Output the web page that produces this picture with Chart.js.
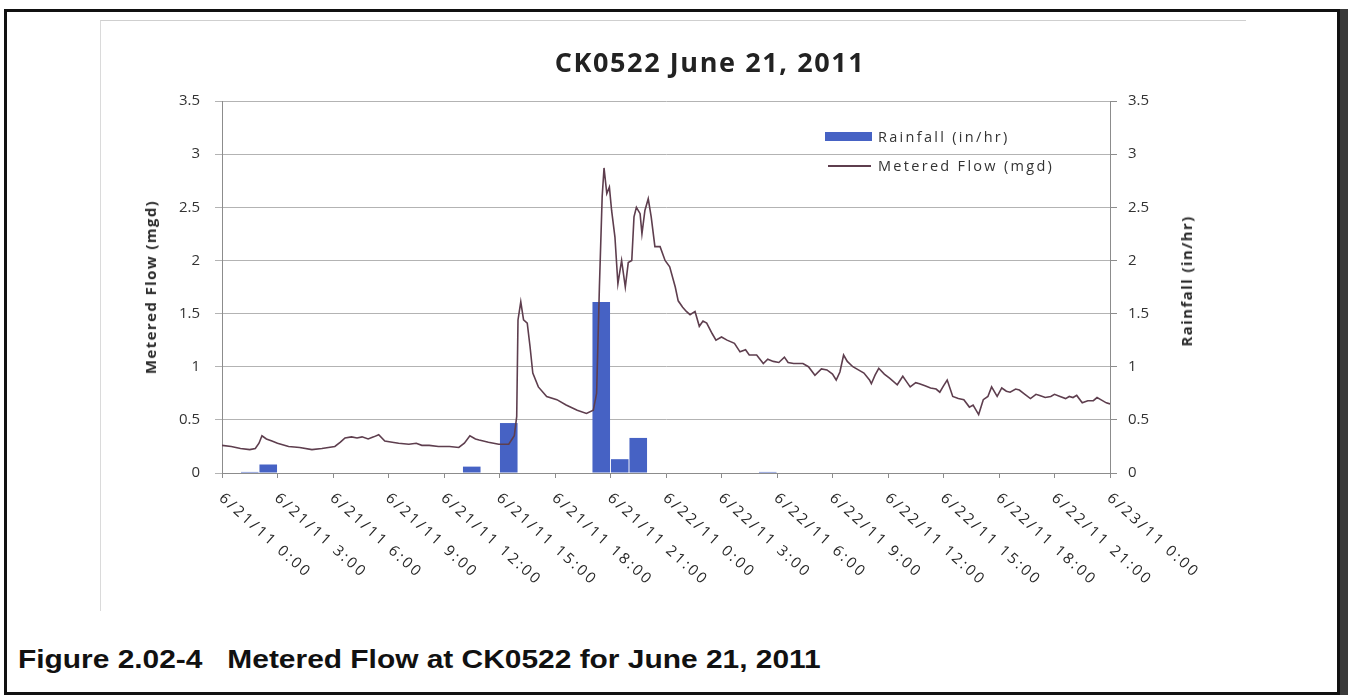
<!DOCTYPE html>
<html>
<head>
<meta charset="utf-8">
<script src="https://cdn.jsdelivr.net/npm/chart.js@4.4.1/dist/chart.umd.min.js"></script>
<style>
  body { margin: 0; background: #fff; width: 1348px; height: 699px; overflow: hidden; position: relative; font-family: "Open Sans", sans-serif; }
  #frame { position: absolute; left: 4px; top: 9px; width: 1330px; height: 680px; border: 3px solid #111; box-shadow: 8px 0 0 #3a3a3a; }
  #chartEdge { position: absolute; left: 100px; top: 20px; width: 1145px; height: 590px; border-top: 1px solid #cfcfcf; border-left: 1px solid #dadada; }
  #chartBox { position: absolute; left: 100px; top: 20px; width: 1145px; height: 590px; }
  #title { position: absolute; left: 710px; top: 43px; transform: translateX(-50%); font-size: 27px; font-weight: bold; color: #222; letter-spacing: 1.6px; white-space: nowrap; }
  .axisTitle { position: absolute; font-size: 15px; font-weight: bold; color: #2a2a2a; letter-spacing: 1.4px; white-space: nowrap; transform: translate(-50%, -50%) rotate(-90deg); }
  #legend { position: absolute; left: 825px; top: 122px; font-size: 14.5px; color: #333; letter-spacing: 2.3px; }
  #legend div { height: 29px; display: flex; align-items: center; white-space: nowrap; }
  .sw { display: inline-block; width: 47px; margin-right: 6px; }
  #caption { position: absolute; left: 18px; top: 644px; font-family: "Liberation Sans", Arial, sans-serif; font-weight: bold; font-size: 26px; color: #111; white-space: pre; transform: scaleX(1.15); transform-origin: left top; }
</style>
</head>
<body>
<div id="frame"></div>
<div id="chartEdge"></div>
<div id="chartBox"><canvas id="flowChart"></canvas></div>
<div id="title">CK0522 June 21, 2011</div>
<div class="axisTitle" style="left:150px; top:287px;">Metered Flow (mgd)</div>
<div class="axisTitle" style="left:1186px; top:281px;">Rainfall (in/hr)</div>
<div id="legend">
  <div><span class="sw" style="height:9px; background:#4662c4;"></span>Rainfall (in/hr)</div>
  <div><span class="sw" style="height:2px; background:#5e3e4e; width:43px; margin-left:3px; margin-right:7px;"></span>Metered Flow (mgd)</div>
</div>
<div id="caption">Figure 2.02-4   Metered Flow at CK0522 for June 21, 2011</div>

<script>
// x axis tick labels, one every 3 hours from 6/21/11 0:00
const xLabels = [
  '6/21/11 0:00', '6/21/11 3:00', '6/21/11 6:00', '6/21/11 9:00',
  '6/21/11 12:00', '6/21/11 15:00', '6/21/11 18:00', '6/21/11 21:00',
  '6/22/11 0:00', '6/22/11 3:00', '6/22/11 6:00', '6/22/11 9:00',
  '6/22/11 12:00', '6/22/11 15:00', '6/22/11 18:00', '6/22/11 21:00',
  '6/23/11 0:00'
];

// hourly rainfall (in/hr), index = hour since 6/21 0:00
const rainfall = [
  0, 0.01, 0.08, 0, 0, 0, 0, 0, 0, 0, 0, 0,
  0, 0.06, 0, 0.47, 0, 0, 0, 0, 1.61, 0.13, 0.33, 0,
  0, 0, 0, 0, 0, 0.01, 0, 0, 0, 0, 0, 0,
  0, 0, 0, 0, 0, 0, 0, 0, 0, 0, 0, 0
];

// metered flow (mgd), time in hours since 6/21 0:00
const flowTime = [
  0, 0.5, 1.0, 1.5, 1.8, 2.0, 2.16, 2.4, 2.7, 3.0, 3.6, 4.2, 4.86, 5.4, 6.1, 6.4, 6.65, 7.0, 7.3, 7.57,
  7.9, 8.2, 8.47, 8.8, 9.2, 9.55, 10.1, 10.5, 10.8, 11.2, 11.7, 12.3, 12.8, 13.1, 13.4, 13.7, 13.9, 14.4, 14.96, 15.5,
  15.8, 15.93, 16.0, 16.15, 16.3, 16.5, 16.65, 16.8, 17.1, 17.55, 18.1, 18.6, 19.2, 19.7, 20.07, 20.25, 20.4, 20.55, 20.65, 20.8,
  20.94, 21.06, 21.24, 21.4, 21.6, 21.8, 21.96, 22.15, 22.27, 22.4, 22.6, 22.7, 22.86, 23.04, 23.2, 23.4, 23.68, 23.95, 24.2, 24.5,
  24.66, 24.9, 25.1, 25.3, 25.57, 25.8, 26.0, 26.2, 26.5, 26.7, 27.0, 27.3, 27.7, 28.0, 28.3, 28.5, 28.9, 29.26, 29.5, 29.8,
  30.1, 30.4, 30.6, 30.9, 31.4, 31.7, 32.05, 32.4, 32.7, 33.0, 33.2, 33.4, 33.6, 33.8, 34.1, 34.4, 34.7, 35.0, 35.1, 35.3,
  35.5, 35.8, 36.1, 36.5, 36.8, 37.0, 37.2, 37.5, 37.7, 38.0, 38.3, 38.6, 38.8, 39.0, 39.2, 39.5, 39.8, 40.1, 40.4, 40.6,
  40.9, 41.15, 41.4, 41.6, 41.9, 42.15, 42.4, 42.6, 42.9, 43.1, 43.4, 43.7, 44.0, 44.2, 44.5, 44.8, 45.0, 45.3, 45.6, 45.8,
  46.0, 46.2, 46.5, 46.8, 47.1, 47.3, 47.5, 47.8, 48.0
];
const flowMgd = [
  0.26, 0.25, 0.23, 0.22, 0.23, 0.28, 0.35, 0.32, 0.30, 0.28, 0.25, 0.24, 0.22, 0.23, 0.25, 0.29, 0.33, 0.34, 0.33, 0.34,
  0.32, 0.34, 0.36, 0.30, 0.29, 0.28, 0.27, 0.28, 0.26, 0.26, 0.25, 0.25, 0.24, 0.28, 0.35, 0.32, 0.31, 0.29, 0.27, 0.27,
  0.35, 0.53, 1.44, 1.61, 1.44, 1.41, 1.19, 0.94, 0.81, 0.72, 0.69, 0.64, 0.59, 0.56, 0.59, 0.75, 1.75, 2.60, 2.87, 2.63,
  2.69, 2.47, 2.22, 1.78, 2.00, 1.75, 1.98, 2.00, 2.41, 2.50, 2.44, 2.25, 2.47, 2.58, 2.41, 2.13, 2.13, 2.00, 1.94, 1.75,
  1.62, 1.56, 1.52, 1.49, 1.52, 1.38, 1.43, 1.41, 1.31, 1.25, 1.28, 1.25, 1.22, 1.14, 1.16, 1.11, 1.11, 1.03, 1.07, 1.05,
  1.04, 1.09, 1.04, 1.03, 1.03, 1.00, 0.92, 0.98, 0.97, 0.93, 0.875, 0.95, 1.11, 1.05, 1.00, 0.97, 0.94, 0.875, 0.84, 0.92,
  0.985, 0.93, 0.89, 0.83, 0.91, 0.86, 0.81, 0.85, 0.84, 0.82, 0.80, 0.79, 0.76, 0.82, 0.875, 0.72, 0.70, 0.69, 0.62, 0.64,
  0.55, 0.69, 0.72, 0.81, 0.72, 0.80, 0.77, 0.76, 0.79, 0.78, 0.74, 0.70, 0.74, 0.73, 0.71, 0.72, 0.74, 0.72, 0.70, 0.72,
  0.71, 0.73, 0.66, 0.68, 0.68, 0.71, 0.69, 0.66, 0.65
];

// slanted date labels under the x axis (going down to the right)
const slantLabels = {
  id: 'slantLabels',
  afterDraw(chart) {
    const ctx = chart.ctx;
    const xs = chart.scales.x;
    ctx.save();
    ctx.font = '15px "Open Sans"';
    ctx.fillStyle = '#262626';
    ctx.textAlign = 'left';
    ctx.textBaseline = 'middle';
    if ('letterSpacing' in ctx) ctx.letterSpacing = '2.6px';
    xs.ticks.forEach(t => {
      const px = xs.getPixelForValue(t.value);
      ctx.save();
      ctx.translate(px - 1, xs.top + 23);
      ctx.rotate(42 * Math.PI / 180);
      ctx.fillText(xLabels[Math.round(t.value / 3)], 0, 0);
      ctx.restore();
    });
    ctx.restore();
  }
};

const tickFont = { family: 'Open Sans', size: 15 };
const plainNum = v => String(Math.round(v * 10) / 10);

new Chart(document.getElementById('flowChart'), {
  type: 'bar',
  data: {
    datasets: [
      {
        type: 'line',
        label: 'Metered Flow (mgd)',
        data: flowTime.map((t, i) => ({ x: t, y: flowMgd[i] })),
        borderColor: '#5e3e4e',
        borderWidth: 1.6,
        pointRadius: 0,
        tension: 0,
        yAxisID: 'y',
        order: 0
      },
      {
        type: 'bar',
        label: 'Rainfall (in/hr)',
        data: rainfall.map((v, i) => ({ x: i + 0.5, y: v })),
        backgroundColor: '#4662c4',
        barPercentage: 0.95,
        categoryPercentage: 1,
        yAxisID: 'y1',
        order: 1
      }
    ]
  },
  options: {
    responsive: true,
    maintainAspectRatio: false,
    animation: false,
    layout: { padding: { top: 81, left: 0, right: 0, bottom: 0 } },
    plugins: {
      legend: { display: false },
      title: { display: false },
      tooltip: { enabled: false }
    },
    scales: {
      x: {
        type: 'linear',
        min: 0,
        max: 48,
        offset: false,
        ticks: { stepSize: 3, display: false },
        grid: { drawOnChartArea: false, drawTicks: true, tickLength: 5, color: '#8c8c8c', offset: false },
        border: { color: '#8c8c8c' },
        afterFit(scale) { scale.height = 137; }
      },
      y: {
        position: 'left',
        min: 0,
        max: 3.5,
        ticks: { stepSize: 0.5, font: tickFont, color: '#333', padding: 15, callback: plainNum },
        grid: { color: '#b3b3b3', tickLength: 7 },
        border: { color: '#8c8c8c' },
        afterFit(scale) { scale.width = 122; }
      },
      y1: {
        position: 'right',
        min: 0,
        max: 3.5,
        ticks: { stepSize: 0.5, font: tickFont, color: '#333', padding: 11, callback: plainNum },
        grid: { drawOnChartArea: false, tickLength: 7, color: '#8c8c8c' },
        border: { color: '#8c8c8c' },
        afterFit(scale) { scale.width = 135; }
      }
    }
  },
  plugins: [slantLabels]
});
</script>
</body>
</html>
